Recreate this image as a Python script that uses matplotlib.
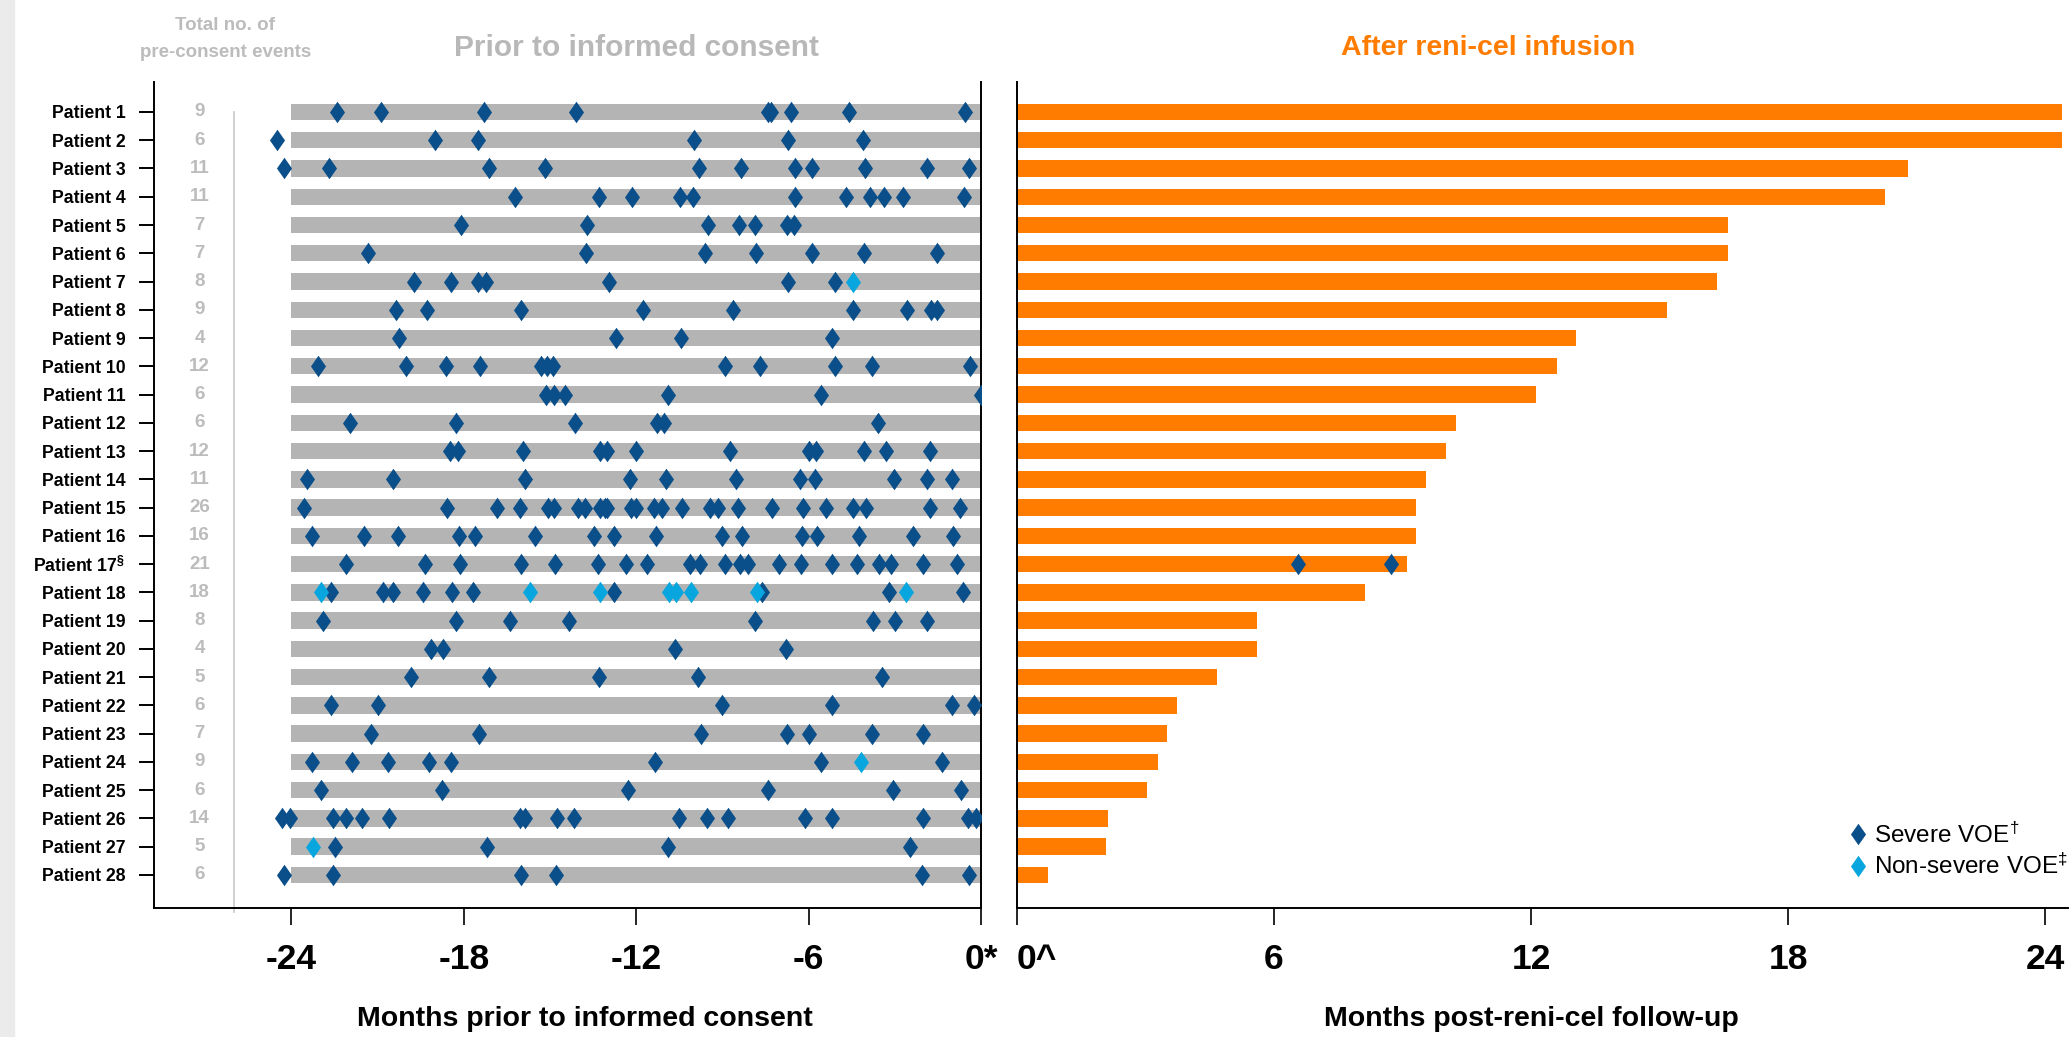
import matplotlib
matplotlib.use("Agg")
import matplotlib.pyplot as plt
from matplotlib.path import Path
from matplotlib.lines import Line2D
from matplotlib.patches import Rectangle
from matplotlib.transforms import blended_transform_factory

plt.rcParams["font.family"] = ["Liberation Sans", "DejaVu Sans"]
plt.rcParams["mathtext.default"] = "regular"

# ---------------------------------------------------------------- data
patients = [f"Patient {i}" for i in range(1, 29)]
patients[16] = "Patient 17$^{§}$"

event_counts = [9, 6, 11, 11, 7, 7, 8, 9, 4, 12, 6, 6, 12, 11,
                26, 16, 21, 18, 8, 4, 5, 6, 7, 9, 6, 14, 5, 6]

# months before informed consent of each severe VOE, per patient
severe_prior = [
    [-22.4, -20.9, -17.3, -14.1, -7.4, -7.3, -6.6, -4.6, -0.56],
    [-24.5, -19.0, -17.5, -10.0, -6.7, -4.1],
    [-24.27, -22.69, -17.13, -15.17, -9.8, -8.36, -6.46, -5.89, -4.02, -1.87, -0.43],
    [-16.21, -13.28, -12.16, -10.46, -10.04, -6.46, -4.7, -3.86, -3.36, -2.73, -0.6],
    [-18.1, -13.71, -9.51, -8.43, -7.87, -6.75, -6.52],
    [-21.32, -13.75, -9.59, -7.83, -5.88, -4.08, -1.54],
    [-19.72, -18.45, -17.5, -17.22, -12.96, -6.7, -5.07],
    [-20.37, -19.27, -16.01, -11.75, -8.63, -4.47, -2.57, -1.73, -1.54],
    [-20.27, -12.71, -10.45, -5.19],
    [-23.06, -20.02, -18.63, -17.44, -15.33, -15.1, -14.88, -8.92, -7.69, -5.09, -3.8, -0.37],
    [-15.13, -14.86, -14.47, -10.88, -5.56, 0.0],
    [-21.95, -18.26, -14.14, -11.29, -11.05, -3.57],
    [-18.47, -18.22, -15.95, -13.26, -13.02, -12.01, -8.73, -5.97, -5.74, -4.08, -3.32, -1.77],
    [-23.45, -20.48, -15.88, -12.22, -10.97, -8.51, -6.3, -5.78, -3.04, -1.89, -1.01],
    [-23.57, -18.59, -16.85, -16.05, -15.07, -14.85, -14.03, -13.79, -13.27, -13.1,
     -13.0, -12.17, -12.02, -11.38, -11.1, -10.39, -9.42, -9.16, -8.45, -7.26,
     -6.21, -5.39, -4.47, -3.99, -1.79, -0.74],
    [-23.3, -21.46, -20.28, -18.17, -17.61, -15.52, -13.46, -12.76,
     -11.31, -9.0, -8.31, -6.24, -5.7, -4.24, -2.36, -0.96],
    [-22.11, -19.35, -18.12, -16.01, -14.82, -13.32, -12.34, -11.64, -10.12, -9.79,
     -8.9, -8.4, -8.11, -7.04, -6.26, -5.18, -4.33, -3.56, -3.12, -2.01, -0.82],
    [-22.64, -20.82, -20.48, -19.43, -18.41, -17.68, -12.78, -7.63, -3.2, -0.62],
    [-22.89, -18.28, -16.38, -14.33, -7.87, -3.75, -2.98, -1.89],
    [-19.16, -18.73, -10.66, -6.79],
    [-19.84, -17.14, -13.3, -9.86, -3.43],
    [-22.63, -20.99, -9.0, -5.17, -1.01, -0.25],
    [-21.23, -17.48, -9.74, -6.75, -6.0, -3.8, -2.03],
    [-23.3, -21.91, -20.64, -19.2, -18.43, -11.34, -5.56, -1.34],
    [-22.98, -18.77, -12.3, -7.42, -3.06, -0.68],
    [-24.33, -24.04, -22.57, -22.09, -21.54, -20.62, -16.05, -15.88, -14.74,
     -14.18, -10.5, -9.55, -8.79, -6.11, -5.17, -2.03, -0.46, -0.17],
    [-22.48, -17.2, -10.91, -2.48],
    [-24.27, -22.55, -16.01, -14.8, -2.05, -0.41],
]

# months before informed consent of each non-severe VOE, per patient
nonsevere_prior = [
    [], [], [], [], [], [], [-4.47], [], [], [], [], [], [], [],
    [], [], [],
    [-22.97, -15.71, -13.25, -10.85, -10.6, -10.1, -7.8, -2.62],
    [], [], [], [], [], [-4.16], [], [], [-23.24], [],
]

# months of follow-up after reni-cel infusion
followup = [24.4, 24.4, 20.8, 20.27, 16.6, 16.6, 16.35, 15.18, 13.05, 12.6,
            12.12, 10.24, 10.02, 9.55, 9.31, 9.31, 9.11, 8.13, 5.6, 5.6,
            4.66, 3.73, 3.51, 3.29, 3.03, 2.12, 2.07, 0.72]

# severe VOEs after infusion (patient 17)
post_patient = [17, 17]
post_months = [6.57, 8.74]

prior_ticks = [-24, -18, -12, -6, 0]
prior_ticklabels = ["-24", "-18", "-12", "-6", "0*"]
post_ticks = [0, 6, 12, 18, 24]
post_ticklabels = ["0^", "6", "12", "18", "24"]

# ---------------------------------------------------------------- style
DARK = "#0b4f8a"
LIGHT = "#07a6de"
BAR_GREY = "#b4b4b4"
ORANGE = "#ff7c00"
TXT_GREY = "#bcbcbc"
BAR_H = 0.58

diamond = Path([(0, 1), (0.7, 0), (0, -1), (-0.7, 0), (0, 1)],
               [Path.MOVETO, Path.LINETO, Path.LINETO, Path.LINETO, Path.CLOSEPOLY])
MS = 15.5

fig = plt.figure(figsize=(20.70, 10.37), dpi=100)
fig.add_artist(Rectangle((0, 0), 14 / 2070, 1, transform=fig.transFigure,
                         color="#ebebeb", zorder=0))

ax1 = fig.add_axes([0.0746, 0.1244, 0.3993, 0.7965])
ax2 = fig.add_axes([0.4913, 0.1244, 0.5077, 0.7965])

n = len(patients)
ypos = list(range(n))

# ---------------------------------------------------------------- left panel
ax1.barh(ypos, [24] * n, left=-24, height=BAR_H, color=BAR_GREY, zorder=1)
for i in range(n):
    ax1.plot(severe_prior[i], [i] * len(severe_prior[i]), linestyle="none",
             marker=diamond, ms=MS, color=DARK, mew=0, zorder=3)
    if nonsevere_prior[i]:
        ax1.plot(nonsevere_prior[i], [i] * len(nonsevere_prior[i]), linestyle="none",
                 marker=diamond, ms=MS, color=LIGHT, mew=0, zorder=4)
    ax1.text(-27.2, i, str(event_counts[i]), ha="center", va="center",
             color=TXT_GREY, fontsize=13.5, fontweight="bold")

ax1.plot([-26.0, -26.0], [0, n + 0.3], color="#c8c8c8", lw=1.2, clip_on=False, zorder=2)

ax1.set_xlim(-28.77, 0)
ax1.set_ylim(n - 1 + 1.17, -1.06)
ax1.set_yticks(ypos)
ax1.set_yticklabels(patients, fontsize=12.7, fontweight="bold")
ax1.set_xticks(prior_ticks)
ax1.set_xticklabels(prior_ticklabels, fontsize=25.5, fontweight="bold")
ax1.tick_params(axis="y", direction="out", length=11, width=1.4, pad=10)
ax1.tick_params(axis="x", direction="out", length=12, width=1.2, pad=13)
ax1.spines["top"].set_visible(False)
for s in ("left", "right", "bottom"):
    ax1.spines[s].set_linewidth(1.4)
    ax1.spines[s].set_color("black")

# ---------------------------------------------------------------- right panel
ax2.barh(ypos, followup, left=0, height=BAR_H, color=ORANGE, zorder=1)
ax2.plot(post_months, [p - 1 for p in post_patient], linestyle="none",
         marker=diamond, ms=MS, color=DARK, mew=0, zorder=3)
ax2.set_xlim(0, 24.53)
ax2.set_ylim(n - 1 + 1.17, -1.06)
ax2.set_yticks([])
ax2.set_xticks(post_ticks)
ax2.set_xticklabels(post_ticklabels, fontsize=25.5, fontweight="bold")
ax2.get_xticklabels()[0].set_horizontalalignment("left")
ax2.tick_params(axis="x", direction="out", length=12, width=1.2, pad=13)
ax2.spines["top"].set_visible(False)
ax2.spines["right"].set_visible(False)
for s in ("left", "bottom"):
    ax2.spines[s].set_linewidth(1.4)
    ax2.spines[s].set_color("black")

handles = [
    Line2D([], [], linestyle="none", marker=diamond, ms=MS, color=DARK, mew=0),
    Line2D([], [], linestyle="none", marker=diamond, ms=MS, color=LIGHT, mew=0),
]
ax2.legend(handles, ["Severe VOE$^{†}$", "Non-severe VOE$^{‡}$"], loc="lower right",
           bbox_to_anchor=(1.0, 0.035), frameon=False, fontsize=17.5,
           handlelength=0.6, handletextpad=0.35, labelspacing=0.25, borderpad=0,
           borderaxespad=0)

# ---------------------------------------------------------------- titles
t1 = blended_transform_factory(ax1.transData, fig.transFigure)
t2 = blended_transform_factory(ax2.transData, fig.transFigure)
fig.text(-12.0, 0.954, "Prior to informed consent", transform=t1, ha="center", va="center",
         fontsize=21.5, fontweight="bold", color="#b8b8b8")
fig.text(11.0, 0.954, "After reni-cel infusion", transform=t2, ha="center", va="center",
         fontsize=20.5, fontweight="bold", color=ORANGE)
fig.text(-26.3, 0.975, "Total no. of", transform=t1, ha="center",
         va="center", fontsize=13.5, fontweight="bold", color=TXT_GREY)
fig.text(-26.3, 0.949, "pre-consent events", transform=t1, ha="center",
         va="center", fontsize=13.5, fontweight="bold", color=TXT_GREY)
fig.text(-13.8, 0.0174, "Months prior to informed consent", transform=t1, ha="center",
         va="center", fontsize=20.5, fontweight="bold")
fig.text(12, 0.0174, "Months post-reni-cel follow-up", transform=t2, ha="center",
         va="center", fontsize=20.5, fontweight="bold")

fig.savefig("out.png", dpi=100)
